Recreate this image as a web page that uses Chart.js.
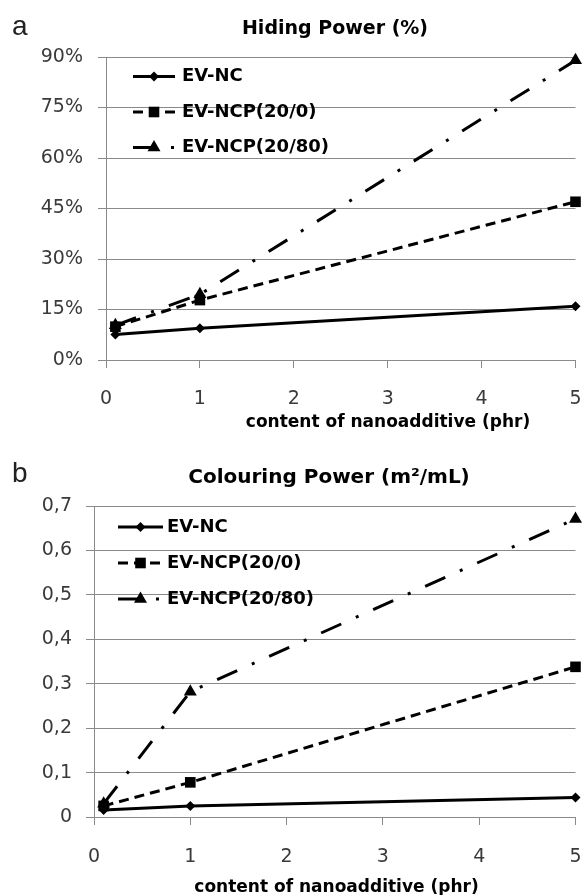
<!DOCTYPE html>
<html><head><meta charset="utf-8">
<script src="https://cdn.jsdelivr.net/npm/chart.js@4"></script>
<style>
html,body{margin:0;padding:0;background:#fff;}
#wrap{position:relative;width:583px;height:895px;overflow:hidden;background:#fff;}
#ca{position:absolute;left:0;top:0;}
#cb{position:absolute;left:0;top:440px;}
</style></head><body>
<div id="wrap"><canvas id="ca" width="583" height="440"></canvas><canvas id="cb" width="583" height="455"></canvas></div>
<script>
// ---- data ----
const seriesNames = ['EV-NC', 'EV-NCP(20/0)', 'EV-NCP(20/80)'];
const contentPhr = [0.1, 1, 5];
const xTicks = ['0', '1', '2', '3', '4', '5'];

const hidingNC = [7.6, 9.4, 16.0];
const hidingNCP200 = [9.9, 17.8, 47.0];
const hidingNCP2080 = [10.3, 19.5, 89.0];
const hidingTicks = ['0%', '15%', '30%', '45%', '60%', '75%', '90%'];

const colourNC = [0.016, 0.025, 0.044];
const colourNCP200 = [0.025, 0.078, 0.338];
const colourNCP2080 = [0.03, 0.282, 0.671];
const colourTicks = ['0', '0,1', '0,2', '0,3', '0,4', '0,5', '0,6', '0,7'];

const titleA = 'Hiding Power (%)';
const titleB = 'Colouring Power (m²/mL)';
const xAxisTitle = 'content of nanoadditive (phr)';

// ---- styling ----
const FONT = '"DejaVu Sans", sans-serif';
const GRID = '#8a8a8a';
const TICKCOL = '#3a3a3a';
const seriesStyle = [
  {borderDash: [], pointStyle: 'rectRot', pointRadius: 5},
  {borderDash: [10, 6], pointStyle: 'rect', pointRadius: 7.5},
  {borderDash: [22, 16, 3, 16], pointStyle: 'triangle', pointRadius: 7.5}
];

function drawMarker(ctx, style, x, y, r) {
  ctx.beginPath();
  if (style === 'rectRot') {
    ctx.moveTo(x - r, y); ctx.lineTo(x, y - r); ctx.lineTo(x + r, y); ctx.lineTo(x, y + r);
  } else if (style === 'rect') {
    const s = r * Math.SQRT1_2; ctx.rect(x - s, y - s, 2 * s, 2 * s);
  } else {
    for (let k = 0; k < 3; k++) {
      const a = k * 2 * Math.PI / 3;
      const px = x + Math.sin(a) * r, py = y - Math.cos(a) * r;
      if (k === 0) ctx.moveTo(px, py); else ctx.lineTo(px, py);
    }
  }
  ctx.closePath(); ctx.fill();
}

const decorPlugin = {
  id: 'decor',
  afterDraw(chart, args, o) {
    const ctx = chart.ctx, ca = chart.chartArea;
    ctx.save();
    // panel letter
    ctx.fillStyle = '#222'; ctx.textAlign = 'left'; ctx.textBaseline = 'alphabetic';
    ctx.font = '28px "Liberation Sans", sans-serif';
    ctx.fillText(o.panel, o.panelX, o.panelY);
    // chart title
    ctx.fillStyle = '#000'; ctx.textAlign = 'center';
    ctx.font = 'bold ' + o.titleSize + 'px ' + FONT;
    ctx.fillText(o.title, o.titleX, o.titleY);
    // x axis title
    ctx.font = 'bold 17px ' + FONT;
    ctx.fillText(o.xTitle, o.xTitleX, o.xTitleY);
    // legend
    chart.data.datasets.forEach((ds, i) => {
      const y = ca.top + o.legTop + i * o.legStep;
      const x0 = ca.left + o.legX0, x1 = ca.left + o.legX1;
      ctx.strokeStyle = '#000'; ctx.lineWidth = 3; ctx.lineCap = 'butt';
      ctx.setLineDash(ds.borderDash || []);
      ctx.beginPath(); ctx.moveTo(x0, y); ctx.lineTo(x1, y); ctx.stroke();
      ctx.setLineDash([]);
      ctx.fillStyle = '#000';
      drawMarker(ctx, ds.pointStyle, (x0 + x1) / 2, y, ds.pointRadius);
      ctx.font = 'bold 18px ' + FONT; ctx.textAlign = 'left'; ctx.textBaseline = 'middle';
      ctx.fillText(ds.label, ca.left + o.legText, y);
    });
    ctx.restore();
  }
};

function makeDatasets(seriesVals) {
  return seriesVals.map((vals, i) => ({
    label: seriesNames[i],
    data: contentPhr.map((x, j) => ({x: x, y: vals[j]})),
    borderColor: '#000', backgroundColor: '#000',
    borderWidth: 3, borderDash: seriesStyle[i].borderDash,
    pointStyle: seriesStyle[i].pointStyle, pointRadius: seriesStyle[i].pointRadius,
    pointBorderWidth: 0, pointBackgroundColor: '#000',
    tension: 0, fill: false, clip: false
  }));
}

function makeConfig(p) {
  return {
    type: 'line',
    data: {datasets: makeDatasets(p.series)},
    options: {
      responsive: false, devicePixelRatio: 1, animation: false,
      layout: {padding: {top: p.top, right: p.right, bottom: 0, left: 0}},
      plugins: {legend: {display: false}, title: {display: false}, tooltip: {enabled: false}, decor: p.decor},
      scales: {
        x: {
          type: 'linear', min: 0, max: 5,
          afterFit: s => { s.height = p.xHeight; s.paddingRight = 0; s.paddingLeft = 0; },
          ticks: {stepSize: 1, padding: p.xPad, color: TICKCOL, font: {family: FONT, size: 19},
                  callback: v => xTicks[Math.round(v)], maxRotation: 0},
          grid: {drawOnChartArea: false, drawTicks: true, tickLength: 8, color: GRID, lineWidth: 1},
          border: {display: true, color: GRID, width: 1}
        },
        y: {
          type: 'linear', min: 0, max: p.yMax,
          afterFit: s => { s.width = p.yWidth; },
          ticks: {stepSize: p.yStep, padding: p.yPad, color: TICKCOL, font: {family: FONT, size: 19},
                  callback: p.yCb},
          grid: {drawTicks: true, tickLength: 8, color: GRID, lineWidth: 1},
          border: {display: true, color: GRID, width: 1}
        }
      }
    },
    plugins: [decorPlugin]
  };
}

new Chart(document.getElementById('ca'), makeConfig({
  series: [hidingNC, hidingNCP200, hidingNCP2080],
  top: 57, right: 6, xHeight: 80, yWidth: 106, xPad: 20, yPad: 15,
  yMax: 90, yStep: 15, yCb: v => hidingTicks[Math.round(v / 15)],
  decor: {panel: 'a', panelX: 12, panelY: 35, title: titleA, titleSize: 19, titleX: 335, titleY: 33.5,
          xTitle: xAxisTitle, xTitleX: 388, xTitleY: 427,
          legTop: 19.5, legStep: 35.5, legX0: 27, legX1: 69, legText: 76}
}));

new Chart(document.getElementById('cb'), makeConfig({
  series: [colourNC, colourNCP200, colourNCP2080],
  top: 66, right: 7, xHeight: 78, yWidth: 94, xPad: 21, yPad: 14,
  yMax: 0.7, yStep: 0.1, yCb: v => colourTicks[Math.round(v * 10)],
  decor: {panel: 'b', panelX: 12, panelY: 41.5, title: titleB, titleSize: 20, titleX: 329, titleY: 42.5,
          xTitle: xAxisTitle, xTitleX: 336.5, xTitleY: 451.5,
          legTop: 21, legStep: 36, legX0: 24, legX1: 69, legText: 73}
}));
</script>
</body></html>
